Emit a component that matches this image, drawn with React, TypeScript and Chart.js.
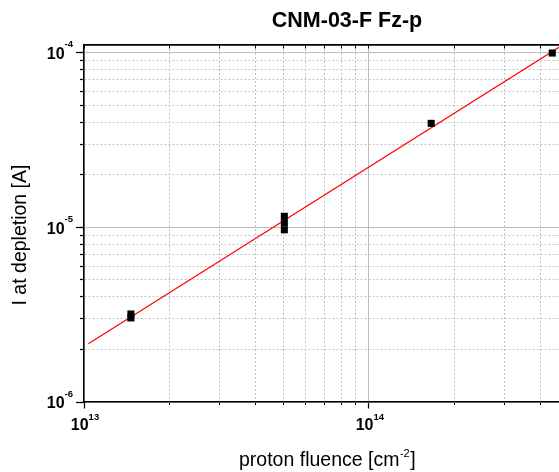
import React, { useEffect, useRef } from 'react';
import { Chart, registerables } from 'chart.js';

Chart.register(...registerables);

// ---- data ----
const TITLE = 'CNM-03-F Fz-p';
const X_TITLE = 'proton fluence [cm';
const X_TITLE_SUP = '-2';
const X_TITLE_END = ']';
const Y_TITLE = 'I at depletion [A]';

const fluence = [1.461e13, 1.461e13, 5.05e13, 5.05e13, 5.05e13, 1.655e14, 4.404e14];
const current = [3.19e-6, 3.03e-6, 1.157e-5, 1.059e-5, 9.68e-6, 3.94e-5, 9.96e-5];
const fitFluence = [1.036e13, 4.65e14];
const fitCurrent = [2.153e-6, 1.074e-4];

const xTickExps = [13, 14];
const yTickExps = [-4, -5, -6];

const X_MIN = 1e13;
const X_MAX = 4.65e14;
const Y_MIN = 1e-6;
const Y_MAX = 1.107e-4;

const FONT = '"Liberation Sans", Arial, Helvetica, sans-serif';

const sig = (v: number) => {
  const e = Math.floor(Math.log10(v) + 1e-9);
  return v / Math.pow(10, e);
};
const isNice = (v: number) => {
  const s = sig(v);
  return Math.abs(s - Math.round(s)) < 1e-6;
};
const isMajor = (v: number) => {
  const s = sig(v);
  return Math.abs(s - 1) < 1e-6 || Math.abs(s - 10) < 1e-6;
};

const gridColor = (ctx: any) => {
  const v = ctx.tick?.value;
  if (v == null || !isNice(v)) return 'rgba(0,0,0,0)';
  return isMajor(v) ? '#bcbcbc' : '#c4c4c4';
};
const tickColorAll = (ctx: any) => {
  const v = ctx.tick?.value;
  if (v == null || !isNice(v)) return 'rgba(0,0,0,0)';
  return '#000';
};
const tickColorMajor = (ctx: any) => {
  const v = ctx.tick?.value;
  if (v == null || !isNice(v) || !isMajor(v)) return 'rgba(0,0,0,0)';
  return '#000';
};
const gridDash = (ctx: any) => {
  const v = ctx.tick?.value;
  if (v == null) return [];
  return isMajor(v) ? [] : [2, 2];
};

const overlay = {
  id: 'overlay',
  afterDraw(chart: any) {
    const { ctx, scales } = chart;
    const xs = scales.x;
    const ys = scales.y;
    ctx.save();
    ctx.fillStyle = '#000';
    ctx.textBaseline = 'alphabetic';

    // title
    ctx.font = `bold 21.5px ${FONT}`;
    ctx.textAlign = 'center';
    ctx.fillText(TITLE, 347, 26.7);

    // y tick labels
    ctx.textAlign = 'left';
    for (const e of yTickExps) {
      const y = ys.getPixelForValue(Math.pow(10, e));
      ctx.font = `bold 16px ${FONT}`;
      const wb = ctx.measureText('10').width;
      ctx.font = `bold 9.5px ${FONT}`;
      const sup = String(e);
      const ws = ctx.measureText(sup).width;
      const x0 = 73 - ws - wb;
      ctx.font = `bold 16px ${FONT}`;
      ctx.fillText('10', x0, y + 6.3);
      ctx.font = `bold 9.5px ${FONT}`;
      ctx.fillText(sup, x0 + wb, y - 5.3);
    }

    // x tick labels
    const axisY = ys.bottom;
    for (const e of xTickExps) {
      const x = xs.getPixelForValue(Math.pow(10, e));
      ctx.font = `bold 16px ${FONT}`;
      const wb = ctx.measureText('10').width;
      ctx.font = `bold 9.5px ${FONT}`;
      const sup = String(e);
      const ws = ctx.measureText(sup).width;
      const x0 = x + 1 - (wb + ws) / 2;
      ctx.font = `bold 16px ${FONT}`;
      ctx.fillText('10', x0, axisY + 27.7);
      ctx.font = `bold 9.5px ${FONT}`;
      ctx.fillText(sup, x0 + wb, axisY + 17.7);
    }

    // x axis title
    ctx.font = `19.5px ${FONT}`;
    const tx = 239;
    ctx.fillText(X_TITLE, tx, 466);
    const w1 = ctx.measureText(X_TITLE).width;
    ctx.font = `11px ${FONT}`;
    ctx.fillText(X_TITLE_SUP, tx + w1 + 0.5, 457);
    const w2 = ctx.measureText(X_TITLE_SUP).width;
    ctx.font = `19.5px ${FONT}`;
    ctx.fillText(X_TITLE_END, tx + w1 + w2 + 1, 466);

    // y axis title
    ctx.translate(26, 235);
    ctx.rotate(-Math.PI / 2);
    ctx.textAlign = 'center';
    ctx.font = `19.5px ${FONT}`;
    ctx.fillText(Y_TITLE, 0, 0);

    ctx.restore();
  },
};

export default function App() {
  const ref = useRef<HTMLCanvasElement | null>(null);

  useEffect(() => {
    if (!ref.current) return;
    const chart = new Chart(ref.current, {
      type: 'scatter',
      data: {
        datasets: [
          {
            label: 'fit',
            type: 'line',
            data: fitFluence.map((x, i) => ({ x, y: fitCurrent[i] })),
            borderColor: '#ff0000',
            borderWidth: 1.2,
            pointRadius: 0,
            fill: false,
            tension: 0,
            order: 1,
          } as any,
          {
            label: 'data',
            data: fluence.map((x, i) => ({ x, y: current[i] })),
            pointStyle: 'rect',
            pointRadius: 5,
            pointHoverRadius: 5,
            backgroundColor: '#000',
            borderColor: '#000',
            borderWidth: 0,
            order: 0,
          },
        ],
      },
      options: {
        animation: false,
        responsive: true,
        maintainAspectRatio: false,
        events: [],
        layout: { padding: 0, autoPadding: false },
        plugins: {
          legend: { display: false },
          title: { display: false },
          tooltip: { enabled: false },
        },
        scales: {
          x: {
            type: 'logarithmic',
            position: 'bottom',
            min: X_MIN,
            max: X_MAX,
            weight: 1,
            ticks: { display: false },
            grid: {
              color: gridColor,
              tickColor: tickColorAll,
              lineWidth: 1,
              tickLength: 3,
              tickWidth: 1,
            },
            border: { display: true, color: '#000', width: 1.5, dash: gridDash },
            afterFit: (s: any) => {
              s.height = 70;
            },
          },
          xMaj: {
            type: 'logarithmic',
            position: 'bottom',
            min: X_MIN,
            max: X_MAX,
            weight: 0,
            ticks: { display: false },
            grid: {
              drawOnChartArea: false,
              color: tickColorMajor,
              tickColor: tickColorMajor,
              tickLength: 6.5,
              tickWidth: 1.2,
            },
            border: { display: false },
            afterFit: (s: any) => {
              s.height = 0;
            },
          },
          xTop: {
            type: 'logarithmic',
            position: 'top',
            min: X_MIN,
            max: X_MAX,
            ticks: { display: false },
            grid: {
              drawOnChartArea: false,
              color: tickColorAll,
              tickColor: tickColorAll,
              tickLength: -3.5,
              tickWidth: 1,
            },
            border: { display: true, color: '#000', width: 1.8 },
            afterFit: (s: any) => {
              s.height = 45;
            },
          },
          y: {
            type: 'logarithmic',
            position: 'left',
            min: Y_MIN,
            max: Y_MAX,
            weight: 1,
            ticks: { display: false },
            grid: {
              color: gridColor,
              tickColor: tickColorAll,
              lineWidth: 1,
              tickLength: 4,
              tickWidth: 1.2,
            },
            border: { display: true, color: '#000', width: 1.5, dash: gridDash },
            afterFit: (s: any) => {
              s.width = 84;
            },
          },
          yMaj: {
            type: 'logarithmic',
            position: 'left',
            min: Y_MIN,
            max: Y_MAX,
            weight: 0,
            ticks: { display: false },
            grid: {
              drawOnChartArea: false,
              color: tickColorMajor,
              tickColor: tickColorMajor,
              tickLength: 8,
              tickWidth: 1.2,
            },
            border: { display: false },
            afterFit: (s: any) => {
              s.width = 0;
            },
          },
        },
      } as any,
      plugins: [overlay],
    });
    return () => chart.destroy();
  }, []);

  return (
    <div style={{ position: 'fixed', left: 0, top: 0, width: 559, height: 472, background: '#fff' }}>
      <canvas ref={ref} />
    </div>
  );
}
